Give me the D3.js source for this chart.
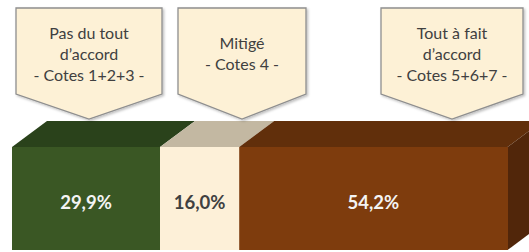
<!DOCTYPE html>
<html>
<head>
<meta charset="utf-8">
<script src="https://cdn.jsdelivr.net/npm/d3@7"></script>
<style>
  body { margin: 0; background: #fff; }
  svg { display: block; }
  text { font-family: Lato, "Open Sans", sans-serif; }
</style>
</head>
<body>
<div id="chart"></div>
<script>
// values
var categories = ["Pas du tout d'accord", "Mitigé", "Tout à fait d'accord"];
var values = [29.9, 16.0, 54.2];
var valueLabels = ["29,9%", "16,0%", "54,2%"];
var calloutLines = [
  ["Pas du tout", "d\u2019accord", "- Cotes 1+2+3 -"],
  ["Mitigé", "- Cotes 4 -"],
  ["Tout à fait", "d\u2019accord", "- Cotes 5+6+7 -"]
];

var frontColors = ["#3a5724", "#fdf0d8", "#7e3c0d"];
var topColors   = ["#2a421b", "#c3b8a2", "#612f0b"];
var sideColor = "#51260a";
var labelColors = ["#f4f4f4", "#404040", "#f4f4f4"];

var width = 529, height = 252;

var svg = d3.select("#chart").append("svg")
  .attr("width", width)
  .attr("height", height);

var defs = svg.append("defs");
var shadow = defs.append("filter").attr("id", "shadow")
  .attr("x", "-10%").attr("y", "-10%").attr("width", "130%").attr("height", "130%");
shadow.append("feDropShadow")
  .attr("dx", 1.5).attr("dy", 1.5).attr("stdDeviation", 1.2)
  .attr("flood-color", "#000").attr("flood-opacity", 0.25);

// bar geometry
var barTop = 147, barBottom = 250;
var depthX = 35, depthY = -26;

var x = d3.scaleLinear().domain([0, 100]).range([12, 507]);

var stack = [];
var acc = 0;
values.forEach(function(v, i) {
  stack.push({ i: i, x0: acc, x1: acc + v, label: valueLabels[i] });
  acc += v;
});

// top faces
svg.selectAll("path.top")
  .data(stack)
  .enter().append("path")
  .attr("class", "top")
  .attr("d", function(d) {
    var a = x(d.x0), b = x(d.x1);
    return "M" + a + "," + barTop +
      "L" + (a + depthX) + "," + (barTop + depthY) +
      "L" + (b + depthX) + "," + (barTop + depthY) +
      "L" + b + "," + barTop + "Z";
  })
  .attr("fill", function(d) { return topColors[d.i]; });

// right side face
var last = stack[stack.length - 1];
svg.append("path")
  .attr("d", "M" + x(last.x1) + "," + barTop +
    "L" + (x(last.x1) + depthX) + "," + (barTop + depthY) +
    "L" + (x(last.x1) + depthX) + "," + (barBottom + depthY) +
    "L" + x(last.x1) + "," + barBottom + "Z")
  .attr("fill", sideColor);

// front faces
svg.selectAll("rect.front")
  .data(stack)
  .enter().append("rect")
  .attr("class", "front")
  .attr("x", function(d) { return x(d.x0); })
  .attr("y", barTop)
  .attr("width", function(d) { return x(d.x1) - x(d.x0) + 0.5; })
  .attr("height", barBottom - barTop)
  .attr("fill", function(d) { return frontColors[d.i]; });

svg.selectAll("text.value")
  .data(stack)
  .enter().append("text")
  .attr("class", "value")
  .attr("x", function(d) { return (x(d.x0) + x(d.x1)) / 2; })
  .attr("y", 203)
  .attr("dy", "0.35em")
  .attr("text-anchor", "middle")
  .attr("font-size", 18.5)
  .attr("font-weight", "bold")
  .attr("fill", function(d) { return labelColors[d.i]; })
  .text(function(d) { return d.label; });

// callouts (pentagon arrows)
var callouts = [
  { left: 16, right: 162, lines: calloutLines[0], y0: 33 },
  { left: 178, right: 306, lines: calloutLines[1], y0: 43 },
  { left: 381, right: 523, lines: calloutLines[2], y0: 33 }
];
var boxTop = 8, boxBottom = 94, tipY = 119;

var g = svg.selectAll("g.callout")
  .data(callouts)
  .enter().append("g")
  .attr("class", "callout");

g.append("path")
  .attr("d", function(d) {
    var mid = (d.left + d.right) / 2;
    return "M" + d.left + "," + boxTop +
      "L" + d.right + "," + boxTop +
      "L" + d.right + "," + boxBottom +
      "L" + mid + "," + tipY +
      "L" + d.left + "," + boxBottom + "Z";
  })
  .attr("fill", "#fdf1d6")
  .attr("stroke", "#8f8f8f")
  .attr("stroke-width", 1.3)
  .attr("filter", "url(#shadow)");

g.each(function(d) {
  var mid = (d.left + d.right) / 2;
  d3.select(this).selectAll("text")
    .data(d.lines)
    .enter().append("text")
    .attr("x", mid)
    .attr("y", function(t, j) { return d.y0 + j * 21; })
    .attr("dy", "0.35em")
    .attr("text-anchor", "middle")
    .attr("font-size", 16)
    .attr("fill", "#404040")
    .text(function(t) { return t; });
});
</script>
</body>
</html>
